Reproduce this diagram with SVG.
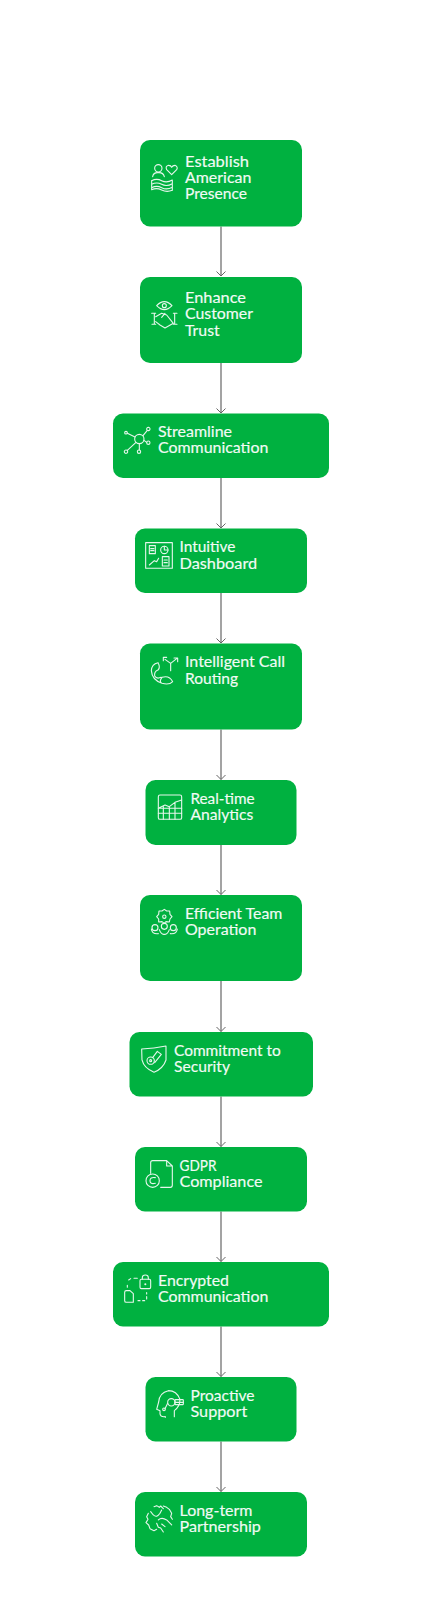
<svg xmlns="http://www.w3.org/2000/svg" width="442" height="1600" viewBox="0 0 442 1600">
<style>
.b{fill:#00b140}
.t{fill:#f2fbf5;font-family:"Lato","Open Sans",sans-serif;font-size:15px;font-weight:400;stroke:#f2fbf5;stroke-width:.15}
.i{fill:none;stroke:#e6f7ec;stroke-width:3.300;stroke-linecap:round;stroke-linejoin:round}
.c{stroke:#999;stroke-width:1.800;fill:none;marker-end:url(#m)}
</style>
<defs><marker id="m" markerUnits="userSpaceOnUse" markerWidth="12" markerHeight="10" refX="10" refY="5" orient="auto"><path d="M5.500 .5L10 5L5.500 9.500" stroke="#666" stroke-width="1" fill="none"/></marker></defs>
<rect width="442" height="1600" fill="#fff"/>
<g id="connectors">
<path class="c" d="M221 226.500V276"/>
<path class="c" d="M221 363V413"/>
<path class="c" d="M221 478V528"/>
<path class="c" d="M221 593V643"/>
<path class="c" d="M221 729.500V779.500"/>
<path class="c" d="M221 845V894.500"/>
<path class="c" d="M221 981V1031.500"/>
<path class="c" d="M221 1096.500V1146.500"/>
<path class="c" d="M221 1211.500V1261.500"/>
<path class="c" d="M221 1326.500V1376.500"/>
<path class="c" d="M221 1441.500V1491.500"/>
</g>
<g id="n1"><rect class="b" x="140" y="140" width="162" height="86.500" rx="10"/>
<text class="t" x="185" y="166.800" textLength="64" lengthAdjust="spacingAndGlyphs">Establish</text><text class="t" x="185" y="183" textLength="66.300" lengthAdjust="spacingAndGlyphs">American</text><text class="t" x="185" y="199.300" textLength="62" lengthAdjust="spacingAndGlyphs">Presence</text>
<g class="i" transform="translate(110,130) scale(.3333)"><circle cx="145" cy="115" r="11"/><path d="M128 140Q130 127 145 128Q160 127 163 140"/><path d="M185 134L170 119Q165 108 176 106Q183 106 185 112Q188 106 195 106Q205 110 200 119Z"/><path d="M125 152Q140 144 155 152T187 150M125 163Q140 155 155 163T187 161M125 173Q140 165 155 173T187 172M125 179Q140 172 155 180T187 181M125 152V179M187 150V181"/></g></g>
<g id="n2"><rect class="b" x="140" y="277" width="162" height="86" rx="10"/>
<text class="t" x="185" y="303" textLength="61" lengthAdjust="spacingAndGlyphs">Enhance</text><text class="t" x="185" y="319.300" textLength="68" lengthAdjust="spacingAndGlyphs">Customer</text><text class="t" x="185" y="335.700" textLength="34.700" lengthAdjust="spacingAndGlyphs">Trust</text>
<g class="i" transform="translate(110,130) scale(.3333)"><path d="M140 527Q163 503 186 527Q163 551 140 527Z"/><circle cx="163" cy="527" r="6"/><path d="M125 550H137M126 583H137M133 550V583M190 550H201M190 583H201M194 550V583M137 560L155 550L170 555L190 580L165 594L150 585L137 575M155 562L165 550"/></g></g>
<g id="n3"><rect class="b" x="113" y="413.500" width="216" height="64.500" rx="10"/>
<text class="t" x="158" y="436.700" textLength="74" lengthAdjust="spacingAndGlyphs">Streamline</text><text class="t" x="158" y="453" textLength="110.300" lengthAdjust="spacingAndGlyphs">Communication</text>
<g class="i" transform="translate(110,400) scale(.3333)"><circle cx="88" cy="117" r="14"/><circle cx="48" cy="98" r="4"/><circle cx="115" cy="87" r="5" stroke-dasharray="4 2"/><circle cx="115" cy="128" r="5"/><circle cx="87" cy="155" r="5"/><circle cx="48" cy="155" r="5" stroke-dasharray="4 2"/><path d="M52 100L75 111M99 107L112 91M102 121L110 127M88 131V150M78 127L52 151"/></g></g>
<g id="n4"><rect class="b" x="135" y="528.500" width="172" height="64.500" rx="10"/>
<text class="t" x="179.500" y="552.400" textLength="56" lengthAdjust="spacingAndGlyphs">Intuitive</text><text class="t" x="179.500" y="568.700" textLength="77.700" lengthAdjust="spacingAndGlyphs">Dashboard</text>
<g class="i" transform="translate(110,400) scale(.3333)"><rect x="107" y="428" width="80" height="77"/><rect x="118" y="437" width="18" height="24"/><path d="M122 446H132M122 452H132"/><circle cx="163" cy="450" r="11"/><path d="M163 439V450H174M118 495L133 482L140 485L146 475"/><rect x="157" y="470" width="20" height="28"/><path d="M162 480H172M162 488H172"/></g></g>
<g id="n5"><rect class="b" x="140" y="643.500" width="162" height="86" rx="10"/>
<text class="t" x="185" y="667.400" textLength="100" lengthAdjust="spacingAndGlyphs">Intelligent Call</text><text class="t" x="185" y="683.700" textLength="53" lengthAdjust="spacingAndGlyphs">Routing</text>
<g class="i" transform="translate(130,630) scale(.3333)"><path d="M84 98Q65 102 64 122Q66 150 96 160Q118 166 128 155Q118 135 96 142Q88 152 93 158M84 98Q92 112 84 120Q72 124 74 138Q80 148 93 142"/><path d="M122 122V100L105 88M122 100L140 86M100 82H110M100 82V92M132 84H143V95"/></g></g>
<g id="n6"><rect class="b" x="145.500" y="780" width="151" height="65" rx="10"/>
<text class="t" x="190.500" y="804" textLength="64" lengthAdjust="spacingAndGlyphs">Real-time</text><text class="t" x="190.500" y="820.300" textLength="62.700" lengthAdjust="spacingAndGlyphs">Analytics</text>
<g class="i" transform="translate(130,630) scale(.3333)"><rect x="85" y="495" width="70" height="73" rx="5"/><path d="M85 535L105 525L118 530L135 517L155 510M85 550H155M85 535H155M100 530V568M118 530V568M135 517V568"/></g></g>
<g id="n7"><rect class="b" x="140" y="895" width="162" height="86" rx="10"/>
<text class="t" x="185" y="919" textLength="97.300" lengthAdjust="spacingAndGlyphs">Efficient Team</text><text class="t" x="185" y="935.300" textLength="71.300" lengthAdjust="spacingAndGlyphs">Operation</text>
<g class="i" transform="translate(120,885) scale(.3333)"><path d="M133 73L140 78L149 78L150 88L156 95L150 102L148 111L138 110L133 115L126 110L116 111L116 102L110 95L116 88L117 78L126 78Z"/><circle cx="133" cy="95" r="5"/><circle cx="105" cy="128" r="9"/><circle cx="133" cy="124" r="9"/><circle cx="160" cy="128" r="9"/><path d="M94 132Q96 148 115 146M172 132Q170 148 151 146M118 134Q124 150 133 148Q142 150 148 134"/></g></g>
<g id="n8"><rect class="b" x="129.500" y="1032" width="183.500" height="64.500" rx="10"/>
<text class="t" x="174" y="1055.700" textLength="106.700" lengthAdjust="spacingAndGlyphs">Commitment to</text><text class="t" x="174" y="1072.200" textLength="56" lengthAdjust="spacingAndGlyphs">Security</text>
<g class="i" transform="translate(120,885) scale(.3333)"><path d="M65 492Q102 490 138 483V525Q130 550 102 562Q72 550 66 525Z"/><circle cx="92" cy="527" r="11"/><circle cx="92" cy="527" r="3"/><path d="M98 518L112 499L124 508L104 533"/></g></g>
<g id="n9"><rect class="b" x="135" y="1147" width="172" height="64.500" rx="10"/>
<text class="t" x="179.500" y="1170.700" textLength="37" lengthAdjust="spacingAndGlyphs">GDPR</text><text class="t" x="179.500" y="1187" textLength="83" lengthAdjust="spacingAndGlyphs">Compliance</text>
<g class="i" transform="translate(110,1140) scale(.3333)"><path d="M122 100V68Q122 62 128 62H170L187 78V136Q187 142 181 142H152M170 62V78H187"/><circle cx="128" cy="122" r="20"/><path d="M136 113Q120 110 120 122Q120 134 136 130"/></g></g>
<g id="n10"><rect class="b" x="113" y="1262" width="216" height="64.500" rx="10"/>
<text class="t" x="158" y="1285.700" textLength="71" lengthAdjust="spacingAndGlyphs">Encrypted</text><text class="t" x="158" y="1302.200" textLength="110.300" lengthAdjust="spacingAndGlyphs">Communication</text>
<g class="i" transform="translate(110,1140) scale(.3333)"><rect x="90" y="418" width="32" height="28" rx="4"/><path d="M97 418V413Q97 405 106 405Q115 405 115 413V418"/><circle cx="106" cy="433" r="1.500"/><path d="M44 457Q44 452 49 452H60L70 461V487H49Q44 487 44 482Z"/><path d="M52 442V436M56 420L62 416M72 415H82M84 482H90M98 482H104M110 477V470M110 462V458"/></g></g>
<g id="n11"><rect class="b" x="145.500" y="1377" width="151" height="64.500" rx="10"/>
<text class="t" x="190.500" y="1400.700" textLength="64" lengthAdjust="spacingAndGlyphs">Proactive</text><text class="t" x="190.500" y="1417.200" textLength="56.700" lengthAdjust="spacingAndGlyphs">Support</text>
<g class="i" transform="translate(130,1370) scale(.3333)"><path d="M133 140V122Q150 110 150 88Q140 62 115 62Q88 68 86 96L80 118L90 122V132Q92 142 106 140V142"/><circle cx="124" cy="97" r="11"/><rect x="135" y="89" width="25" height="15" rx="2"/><path d="M135 97H160M113 100L105 116"/><circle cx="102" cy="118" r="4"/></g></g>
<g id="n12"><rect class="b" x="135" y="1492" width="172" height="64.500" rx="10"/>
<text class="t" x="179.500" y="1515.700" textLength="73" lengthAdjust="spacingAndGlyphs">Long-term</text><text class="t" x="179.500" y="1532.200" textLength="81.300" lengthAdjust="spacingAndGlyphs">Partnership</text>
<g class="i" transform="translate(130,1370) scale(.3333)"><path d="M72 410L80 407L88 412L92 408L100 416M100 408L110 412L118 418L125 430L122 440L127 448M55 430L50 440L54 448L48 458L56 465L60 476L72 482L80 478M62 425L70 435Q80 445 90 430L95 420M85 450Q95 440 110 450L125 465M80 460L85 472L92 474L100 486M95 462L105 470"/></g></g>
</svg>
